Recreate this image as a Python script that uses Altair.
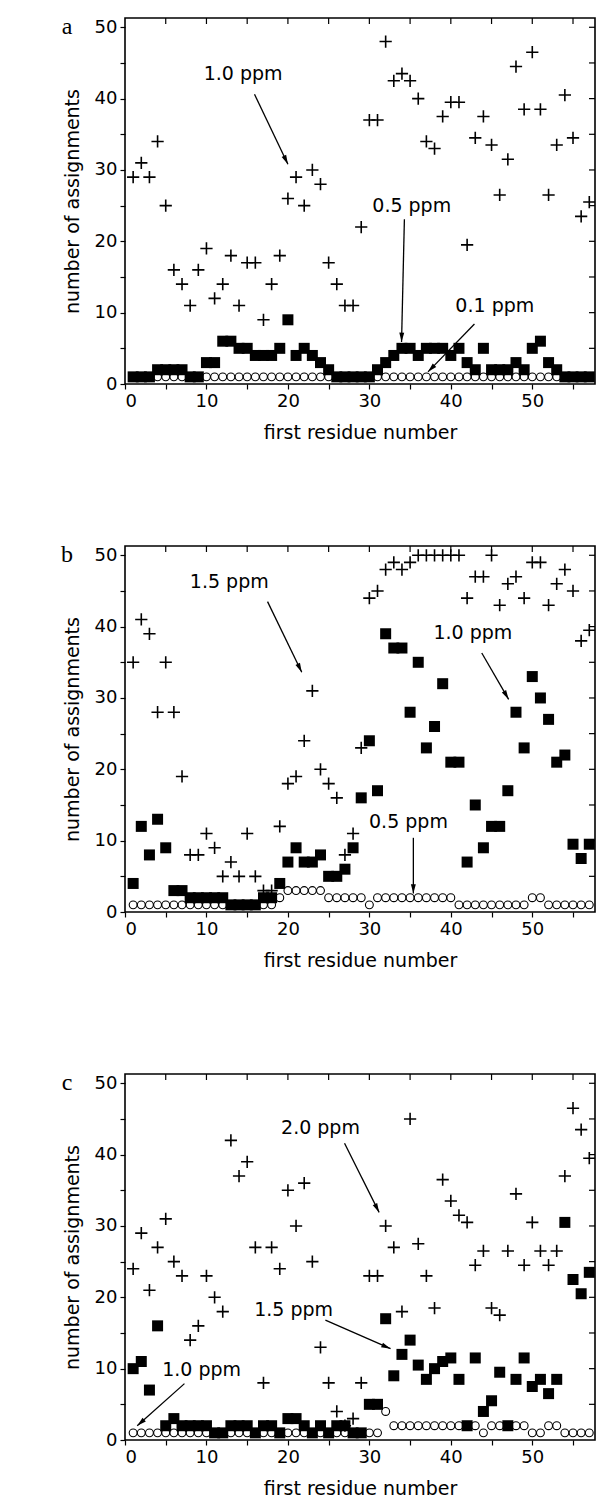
import math
import altair as alt
import pandas as pd

# ---------------- data ----------------
xs = list(range(1, 58))

a_plus = [29, 31, 29, 34, 25, 16, 14, 11, 16, 19,
          12, 14, 18, 11, 17, 17, 9, 14, 18, 26,
          29, 25, 30, 28, 17, 14, 11, 11, 22, 37,
          37, 48, 42.5, 43.5, 42.5, 40, 34, 33, 37.5, 39.5,
          39.5, 19.5, 34.5, 37.5, 33.5, 26.5, 31.5, 44.5, 38.5, 46.5,
          38.5, 26.5, 33.5, 40.5, 34.5, 23.5, 25.5]
a_sq = [1, 1, 1, 2, 2, 2, 2, 1, 1, 3,
        3, 6, 6, 5, 5, 4, 4, 4, 5, 9,
        4, 5, 4, 3, 2, 1, 1, 1, 1, 1,
        2, 3, 4, 5, 5, 4, 5, 5, 5, 4,
        5, 3, 2, 5, 2, 2, 2, 3, 2, 5,
        6, 3, 2, 1, 1, 1, 1]
a_circ = [1] * 57

b_plus = [35, 41, 39, 28, 35, 28, 19, 8, 8, 11,
          9, 5, 7, 5, 11, 5, 3, 3, 12, 18,
          19, 24, 31, 20, 18, 16, 8, 11, 23, 44,
          45, 48, 49, 48, 49, 50, 50, 50, 50, 50,
          50, 44, 47, 47, 50, 43, 46, 47, 44, 49,
          49, 43, 46, 48, 45, 38, 39.5]
b_sq = [4, 12, 8, 13, 9, 3, 3, 2, 2, 2,
        2, 2, 1, 1, 1, 1, 2, 2, 4, 7,
        9, 7, 7, 8, 5, 5, 6, 9, 16, 24,
        17, 39, 37, 37, 28, 35, 23, 26, 32, 21,
        21, 7, 15, 9, 12, 12, 17, 28, 23, 33,
        30, 27, 21, 22, 9.5, 7.5, 9.5]
b_circ = [1] * 18 + [2, 3, 3, 3, 3, 3, 2, 2, 2, 2, 2, 1, 2] + [2] * 9 + [1] * 9 + [2, 2] + [1] * 6

c_plus = [24, 29, 21, 27, 31, 25, 23, 14, 16, 23,
          20, 18, 42, 37, 39, 27, 8, 27, 24, 35,
          30, 36, 25, 13, 8, 4, 2, 3, 8, 23,
          23, 30, 27, 18, 45, 27.5, 23, 18.5, 36.5, 33.5,
          31.5, 30.5, 24.5, 26.5, 18.5, 17.5, 26.5, 34.5, 24.5, 30.5,
          26.5, 24.5, 26.5, 37, 46.5, 43.5, 39.5]
c_sq = [10, 11, 7, 16, 2, 3, 2, 2, 2, 2,
        1, 1, 2, 2, 2, 1, 2, 2, 1, 3,
        3, 2, 1, 2, 1, 2, 2, 1, 1, 5,
        5, 17, 9, 12, 14, 10.5, 8.5, 10, 11, 11.5,
        8.5, 2, 11.5, 4, 5.5, 9.5, 2, 8.5, 11.5, 7.5,
        8.5, 6.5, 8.5, 30.5, 22.5, 20.5, 23.5]
c_circ = [1] * 31 + [4] + [2] * 11 + [1] + [2] * 5 + [1, 1, 2, 2] + [1] * 4

# annotations: label, text x, text y, arrow start (x, y), arrow tip (x, y)
a_notes = [("1.0 ppm", 14.5, 43.4, 15.9, 40.6, 20.0, 30.8),
           ("0.5 ppm", 35.2, 25.0, 34.3, 23.1, 33.95, 5.9),
           ("0.1 ppm", 45.4, 11.0, 42.9, 8.4, 37.2, 1.7)]
b_notes = [("1.5 ppm", 12.8, 46.3, 17.5, 43.5, 21.7, 33.6),
           ("1.0 ppm", 42.7, 39.1, 43.8, 36.3, 47.1, 29.8),
           ("0.5 ppm", 34.8, 12.6, 35.4, 10.4, 35.4, 2.6)]
c_notes = [("2.0 ppm", 24.0, 43.7, 26.95, 41.6, 31.2, 31.9),
           ("1.5 ppm", 20.7, 18.2, 24.6, 16.8, 32.6, 12.8),
           ("1.0 ppm", 9.4, 9.8, 7.3, 7.9, 1.5, 2.0)]

x_ticks = list(range(0, 56, 5))
y_ticks = list(range(0, 51, 5))

# ---------------- layout ----------------
W, H = 470, 366
XMAX, YMAX = 57.7, 51.3
FONT = "DejaVu Sans"

CROSS = "M-1,0L1,0M0,-1L0,1"
HEAD = "M0,0L-0.45,1.7L0.45,1.7Z"


def make_panel(plus, sq, circ, notes, letter, letter_y):
    xsc = alt.Scale(domain=[0, XMAX], nice=False, zero=False)
    ysc = alt.Scale(domain=[0, YMAX], nice=False, zero=False)
    xaxis = alt.Axis(values=x_ticks, labelExpr="datum.value % 10 == 0 ? datum.label : ''",
                     tickSize=5, labelPadding=3, titlePadding=13, grid=False, domain=False)
    yaxis = alt.Axis(values=y_ticks, labelExpr="datum.value % 10 == 0 ? datum.label : ''",
                     tickSize=5, labelPadding=3, titlePadding=12, grid=False, domain=False)
    X = lambda f: alt.X(f, type="quantitative", scale=xsc, axis=xaxis, title="first residue number")
    Y = lambda f: alt.Y(f, type="quantitative", scale=ysc, axis=yaxis, title="number of assignments")

    df = pd.DataFrame({"x": xs, "plus": plus, "sq": sq, "circ": circ})

    circles = alt.Chart(df).mark_point(shape="circle", filled=False, color="black",
                                       strokeWidth=1.1, size=62, opacity=1).encode(x=X("x"), y=Y("circ"))
    squares = alt.Chart(df).mark_point(shape="square", filled=True, color="black",
                                       size=121, opacity=1).encode(x=X("x"), y=Y("sq"))
    crosses = alt.Chart(df).mark_point(shape=CROSS, filled=False, color="black", strokeWidth=1.6,
                                       size=150, opacity=1, clip=True).encode(x=X("x"), y=Y("plus"))

    tdx = pd.DataFrame({"x": x_ticks[1:]})
    tdy = pd.DataFrame({"y": y_ticks[1:]})
    top_ticks = alt.Chart(tdx).mark_rule(color="black", strokeWidth=1.2).encode(
        x=X("x"), y=alt.value(0), y2=alt.value(6))
    right_ticks = alt.Chart(tdy).mark_rule(color="black", strokeWidth=1.2).encode(
        y=Y("y"), x=alt.value(W - 6), x2=alt.value(W))

    sx, sy = W / XMAX, H / YMAX
    rows = []
    for lab, tx, ty, x1, y1, x2, y2 in notes:
        ang = math.degrees(math.atan2((x2 - x1) * sx, (y2 - y1) * sy)) % 360
        rows.append({"label": lab, "tx": tx, "ty": ty, "x1": x1, "y1": y1,
                     "x2": x2, "y2": y2, "ang": ang})
    nd = pd.DataFrame(rows)
    lines = alt.Chart(nd).mark_rule(color="black", strokeWidth=1.3).encode(
        x=X("x1"), y=Y("y1"), x2="x2:Q", y2="y2:Q")
    heads = alt.Chart(nd).mark_point(shape=HEAD, filled=True, color="black", size=120,
                                     opacity=1).encode(x=X("x2"), y=Y("y2"),
                                                       angle=alt.Angle("ang:Q", scale=None))
    texts = alt.Chart(nd).mark_text(font=FONT, fontSize=19, color="black", align="center",
                                    baseline="middle").encode(x=X("tx"), y=Y("ty"), text="label:N")
    let = alt.Chart(pd.DataFrame({"l": [letter]})).mark_text(
        font="Liberation Serif", fontSize=24, color="black", align="center", baseline="middle"
    ).encode(text="l:N", x=alt.value(-58), y=alt.value(letter_y))

    return alt.layer(circles, squares, crosses, top_ticks, right_ticks, lines, heads, texts, let
                     ).properties(width=W, height=H)


chart = alt.vconcat(
    make_panel(a_plus, a_sq, a_circ, a_notes, "a", 9),
    make_panel(b_plus, b_sq, b_circ, b_notes, "b", 9),
    make_panel(c_plus, c_sq, c_circ, c_notes, "c", 9),
    spacing=99,
).properties(
    padding={"left": 60, "top": 14, "right": 5, "bottom": 5},
    background="white",
).configure_view(
    stroke="black", strokeWidth=1.6
).configure_axis(
    labelFont=FONT, labelFontSize=18, labelColor="black",
    titleFont=FONT, titleFontSize=19, titleFontWeight="normal", titleColor="black",
    tickColor="black", tickWidth=1.2,
)

chart.save("out.html", embed_options={"renderer": "svg", "actions": False})
